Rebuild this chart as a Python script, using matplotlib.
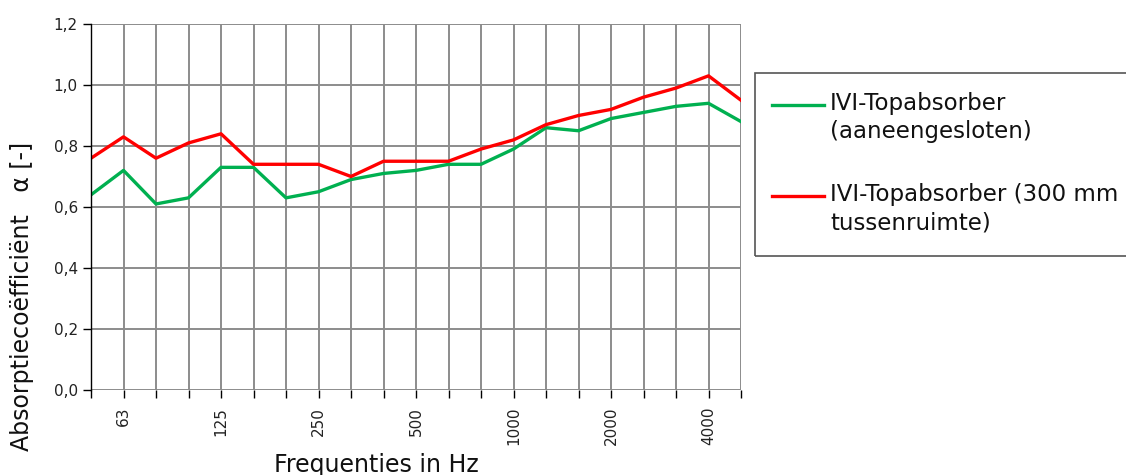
import matplotlib.pyplot as plt
from matplotlib.lines import Line2D
from matplotlib.patches import Rectangle
import numpy as np

# third-octave bands 50 Hz .. 5000 Hz
freqs = ['50', '63', '80', '100', '125', '160', '200', '250', '315', '400', '500',
         '630', '800', '1000', '1250', '1600', '2000', '2500', '3150', '4000', '5000']
shown = ['63', '125', '250', '500', '1000', '2000', '4000']

aaneengesloten = [0.64, 0.72, 0.61, 0.63, 0.73, 0.73, 0.63, 0.65, 0.69, 0.71, 0.72,
                  0.74, 0.74, 0.79, 0.86, 0.85, 0.89, 0.91, 0.93, 0.94, 0.88]
tussenruimte = [0.76, 0.83, 0.76, 0.81, 0.84, 0.74, 0.74, 0.74, 0.70, 0.75, 0.75,
                0.75, 0.79, 0.82, 0.87, 0.90, 0.92, 0.96, 0.99, 1.03, 0.95]

label1 = "IVI-Topabsorber\n(aaneengesloten)"
label2 = "IVI-Topabsorber (300 mm\ntussenruimte)"
green = '#00B050'
red = '#FF0000'

plt.rcParams['font.family'] = 'DejaVu Sans'

W, H = 1126, 475
fig = plt.figure(figsize=(W / 100, H / 100), dpi=100)
ax = fig.add_axes([91/W, 1-390/H, 650/W, 366/H])

x = np.arange(len(freqs))
ax.plot(x, aaneengesloten, color=green, lw=2.4)
ax.plot(x, tussenruimte, color=red, lw=2.4)

ax.set_xlim(0, len(freqs) - 1)
ax.set_ylim(0, 1.2)
ax.set_xticks(x)
ax.set_xticklabels([f if f in shown else '' for f in freqs], rotation=90, fontsize=11)
yt = np.arange(0, 1.21, 0.2)
ax.set_yticks(yt)
ax.set_yticklabels([f"{v:.1f}".replace('.', ',') for v in yt], fontsize=11)
ax.tick_params(axis='both', length=6, width=1, color='black', labelcolor='#222222')
ax.tick_params(axis='x', pad=6)
ax.grid(True, color='#8c8c8c', lw=1.4)
ax.set_axisbelow(True)
for s in ['top', 'right', 'bottom']:
    ax.spines[s].set_visible(False)
ax.spines['left'].set_color('black')
ax.spines['left'].set_linewidth(1)

# axis titles
fig.text(376/W, 1-472/H, "Frequenties in Hz", fontsize=17, ha='center', va='baseline',
         color='#111111')
fig.text(22/W, 1-296/H, "Absorptiecoëfficiënt   α [-]", fontsize=17,
         rotation=90, ha='center', va='center', color='#111111')

# legend box
fig.patches.append(Rectangle((755/W, 1-256/H), 400/W, 183/H, transform=fig.transFigure,
                             fill=False, edgecolor='#555555', lw=1.2))
for y, c, lab in [(105, green, label1), (196, red, label2)]:
    fig.add_artist(Line2D([772/W, 824/W], [1-y/H, 1-y/H], color=c, lw=2.4,
                          transform=fig.transFigure))
    fig.text(830/W, 1-(y - 13)/H, lab, fontsize=16.5, ha='left', va='top',
             linespacing=1.3, color='#111111')

fig.savefig('out.png', dpi=100)
